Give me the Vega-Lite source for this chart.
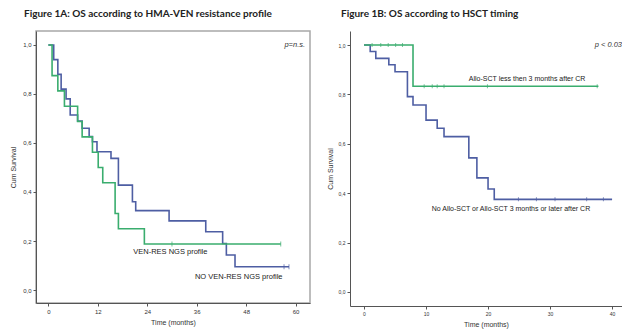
{
  "$schema": "https://vega.github.io/schema/vega-lite/v6.json",
  "padding": {"left": 8, "top": 8, "right": 0, "bottom": 2},
  "spacing": 15,
  "config": {
    "font": "Liberation Sans",
    "view": {"stroke": "#a8a8a8", "strokeWidth": 1.5},
    "axis": {
      "grid": false,
      "domainColor": "#555555",
      "domainWidth": 1,
      "tickColor": "#555555",
      "tickSize": 3,
      "labelFontSize": 6,
      "labelColor": "#333333",
      "labelPadding": 2,
      "titleFontSize": 7,
      "titleFontWeight": "normal",
      "titleColor": "#333333"
    },
    "title": {"font": "Lato", "fontSize": 10, "fontWeight": "bold", "color": "#222222"}
  },
  "datasets": {
    "hmaCurves": [
      {"group": "NO VEN-RES NGS profile", "t": 0, "s": 1.0},
      {"group": "NO VEN-RES NGS profile", "t": 1.3, "s": 0.94},
      {"group": "NO VEN-RES NGS profile", "t": 2.3, "s": 0.88},
      {"group": "NO VEN-RES NGS profile", "t": 3.1, "s": 0.82},
      {"group": "NO VEN-RES NGS profile", "t": 4.3, "s": 0.78},
      {"group": "NO VEN-RES NGS profile", "t": 5.3, "s": 0.714},
      {"group": "NO VEN-RES NGS profile", "t": 7.1, "s": 0.69},
      {"group": "NO VEN-RES NGS profile", "t": 8.2, "s": 0.66},
      {"group": "NO VEN-RES NGS profile", "t": 9.9, "s": 0.626},
      {"group": "NO VEN-RES NGS profile", "t": 10.7, "s": 0.605},
      {"group": "NO VEN-RES NGS profile", "t": 11.8, "s": 0.564},
      {"group": "NO VEN-RES NGS profile", "t": 15.2, "s": 0.537},
      {"group": "NO VEN-RES NGS profile", "t": 17.0, "s": 0.428},
      {"group": "NO VEN-RES NGS profile", "t": 20.4, "s": 0.36},
      {"group": "NO VEN-RES NGS profile", "t": 21.2, "s": 0.324},
      {"group": "NO VEN-RES NGS profile", "t": 29.3, "s": 0.282},
      {"group": "NO VEN-RES NGS profile", "t": 38.2, "s": 0.238},
      {"group": "NO VEN-RES NGS profile", "t": 42.3, "s": 0.19},
      {"group": "NO VEN-RES NGS profile", "t": 43.2, "s": 0.143},
      {"group": "NO VEN-RES NGS profile", "t": 45.3, "s": 0.095},
      {"group": "NO VEN-RES NGS profile", "t": 58.4, "s": 0.095},
      {"group": "VEN-RES NGS profile", "t": 0, "s": 1.0},
      {"group": "VEN-RES NGS profile", "t": 0.9, "s": 0.875},
      {"group": "VEN-RES NGS profile", "t": 2.3, "s": 0.8125},
      {"group": "VEN-RES NGS profile", "t": 3.9, "s": 0.75},
      {"group": "VEN-RES NGS profile", "t": 7.1, "s": 0.6875},
      {"group": "VEN-RES NGS profile", "t": 8.2, "s": 0.625},
      {"group": "VEN-RES NGS profile", "t": 10.7, "s": 0.5625},
      {"group": "VEN-RES NGS profile", "t": 12.1, "s": 0.5},
      {"group": "VEN-RES NGS profile", "t": 13.2, "s": 0.4375},
      {"group": "VEN-RES NGS profile", "t": 16.2, "s": 0.3125},
      {"group": "VEN-RES NGS profile", "t": 17.0, "s": 0.25},
      {"group": "VEN-RES NGS profile", "t": 23.3, "s": 0.1875},
      {"group": "VEN-RES NGS profile", "t": 56.4, "s": 0.1875}
    ],
    "hmaCensored": [
      {"group": "VEN-RES NGS profile", "t": 30.0, "s": 0.1875},
      {"group": "VEN-RES NGS profile", "t": 56.4, "s": 0.1875},
      {"group": "NO VEN-RES NGS profile", "t": 57.2, "s": 0.095},
      {"group": "NO VEN-RES NGS profile", "t": 58.4, "s": 0.095}
    ],
    "hmaNotes": [
      {"label": "VEN-RES NGS profile", "t": 29.6, "s": 0.156},
      {"label": "NO VEN-RES NGS profile", "t": 46.2, "s": 0.054}
    ],
    "hmaP": [{"label": "p=n.s.", "t": 62.3, "s": 1.0}],
    "hsctCurves": [
      {"group": "No Allo-SCT or Allo-SCT 3 months or later after CR", "t": 0, "s": 1.0},
      {"group": "No Allo-SCT or Allo-SCT 3 months or later after CR", "t": 1.0, "s": 0.974},
      {"group": "No Allo-SCT or Allo-SCT 3 months or later after CR", "t": 1.9, "s": 0.946},
      {"group": "No Allo-SCT or Allo-SCT 3 months or later after CR", "t": 4.0, "s": 0.92},
      {"group": "No Allo-SCT or Allo-SCT 3 months or later after CR", "t": 5.0, "s": 0.892},
      {"group": "No Allo-SCT or Allo-SCT 3 months or later after CR", "t": 7.0, "s": 0.791},
      {"group": "No Allo-SCT or Allo-SCT 3 months or later after CR", "t": 7.9, "s": 0.757},
      {"group": "No Allo-SCT or Allo-SCT 3 months or later after CR", "t": 10.0, "s": 0.696},
      {"group": "No Allo-SCT or Allo-SCT 3 months or later after CR", "t": 11.8, "s": 0.663},
      {"group": "No Allo-SCT or Allo-SCT 3 months or later after CR", "t": 12.9, "s": 0.629},
      {"group": "No Allo-SCT or Allo-SCT 3 months or later after CR", "t": 16.9, "s": 0.543},
      {"group": "No Allo-SCT or Allo-SCT 3 months or later after CR", "t": 18.2, "s": 0.462},
      {"group": "No Allo-SCT or Allo-SCT 3 months or later after CR", "t": 20.0, "s": 0.417},
      {"group": "No Allo-SCT or Allo-SCT 3 months or later after CR", "t": 21.0, "s": 0.375},
      {"group": "No Allo-SCT or Allo-SCT 3 months or later after CR", "t": 40.0, "s": 0.375},
      {"group": "Allo-SCT less then 3 months after CR", "t": 0, "s": 1.0},
      {"group": "Allo-SCT less then 3 months after CR", "t": 7.9, "s": 0.833},
      {"group": "Allo-SCT less then 3 months after CR", "t": 37.8, "s": 0.833}
    ],
    "hsctCensored": [
      {"group": "Allo-SCT less then 3 months after CR", "t": 1.3, "s": 1.0},
      {"group": "Allo-SCT less then 3 months after CR", "t": 2.7, "s": 1.0},
      {"group": "Allo-SCT less then 3 months after CR", "t": 3.9, "s": 1.0},
      {"group": "Allo-SCT less then 3 months after CR", "t": 5.1, "s": 1.0},
      {"group": "Allo-SCT less then 3 months after CR", "t": 6.2, "s": 1.0},
      {"group": "Allo-SCT less then 3 months after CR", "t": 9.7, "s": 0.833},
      {"group": "Allo-SCT less then 3 months after CR", "t": 11.0, "s": 0.833},
      {"group": "Allo-SCT less then 3 months after CR", "t": 11.8, "s": 0.833},
      {"group": "Allo-SCT less then 3 months after CR", "t": 12.9, "s": 0.833},
      {"group": "Allo-SCT less then 3 months after CR", "t": 19.9, "s": 0.833},
      {"group": "Allo-SCT less then 3 months after CR", "t": 37.6, "s": 0.833},
      {"group": "No Allo-SCT or Allo-SCT 3 months or later after CR", "t": 24.9, "s": 0.375},
      {"group": "No Allo-SCT or Allo-SCT 3 months or later after CR", "t": 27.8, "s": 0.375},
      {"group": "No Allo-SCT or Allo-SCT 3 months or later after CR", "t": 30.8, "s": 0.375},
      {"group": "No Allo-SCT or Allo-SCT 3 months or later after CR", "t": 35.9, "s": 0.375},
      {"group": "No Allo-SCT or Allo-SCT 3 months or later after CR", "t": 38.6, "s": 0.375}
    ],
    "hsctNotes": [
      {"label": "Allo-SCT less then 3 months after CR", "t": 26.3, "s": 0.862},
      {"label": "No Allo-SCT or Allo-SCT 3 months or later after CR", "t": 23.7, "s": 0.336}
    ],
    "hsctP": [{"label": "p < 0.03", "t": 41.6, "s": 1.0}]
  },
  "hconcat": [
    {
      "width": 274,
      "height": 272,
      "title": {"text": "Figure 1A: OS according to HMA-VEN resistance profile", "anchor": "start", "frame": "group", "dx": -12, "offset": 12},
      "layer": [
        {
          "data": {"name": "hmaCurves"},
          "mark": {"type": "line", "interpolate": "step-after", "strokeWidth": 1.6},
          "encoding": {
            "x": {"field": "t", "type": "quantitative", "scale": {"domain": [-3, 63.5], "nice": false, "zero": false}, "axis": {"values": [0, 12, 24, 36, 48, 60], "title": "Time (months)", "titlePadding": 4}},
            "y": {"field": "s", "type": "quantitative", "scale": {"domain": [-0.053, 1.057], "nice": false, "zero": false}, "axis": {"values": [0, 0.2, 0.4, 0.6, 0.8, 1], "labelExpr": "replace(format(datum.value, '.1f'), '.', ',')", "title": "Cum Survival", "titlePadding": 6}},
            "color": {"field": "group", "type": "nominal", "scale": {"domain": ["NO VEN-RES NGS profile", "VEN-RES NGS profile"], "range": ["#4e5ea3", "#3aad6e"]}, "legend": null}
          }
        },
        {
          "data": {"name": "hmaCensored"},
          "mark": {"type": "tick", "orient": "vertical", "size": 5, "thickness": 1},
          "encoding": {
            "x": {"field": "t", "type": "quantitative"},
            "y": {"field": "s", "type": "quantitative"},
            "color": {"field": "group", "type": "nominal", "legend": null}
          }
        },
        {
          "data": {"name": "hmaNotes"},
          "mark": {"type": "text", "fontSize": 7.5, "color": "#222222", "align": "center", "baseline": "middle"},
          "encoding": {
            "x": {"field": "t", "type": "quantitative"},
            "y": {"field": "s", "type": "quantitative"},
            "text": {"field": "label"}
          }
        },
        {
          "data": {"name": "hmaP"},
          "mark": {"type": "text", "fontSize": 7.5, "fontStyle": "italic", "color": "#333333", "align": "right", "baseline": "middle"},
          "encoding": {
            "x": {"field": "t", "type": "quantitative"},
            "y": {"field": "s", "type": "quantitative"},
            "text": {"field": "label"}
          }
        }
      ]
    },
    {
      "width": 272,
      "height": 275,
      "view": {"stroke": null},
      "title": {"text": "Figure 1B: OS according to HSCT timing", "anchor": "start", "frame": "group", "dx": -9, "offset": 12},
      "layer": [
        {
          "mark": {"type": "rule", "color": "#a8a8a8", "strokeWidth": 1.5},
          "encoding": {"y": {"datum": 1.057, "type": "quantitative"}}
        },
        {
          "data": {"name": "hsctCurves"},
          "mark": {"type": "line", "interpolate": "step-after", "strokeWidth": 1.6},
          "encoding": {
            "x": {"field": "t", "type": "quantitative", "scale": {"domain": [-2.26, 41.6], "nice": false, "zero": false}, "axis": {"values": [0, 10, 20, 30, 40], "title": "Time (months)", "titlePadding": 4, "labelFontSize": 5}},
            "y": {"field": "s", "type": "quantitative", "scale": {"domain": [-0.057, 1.057], "nice": false, "zero": false}, "axis": {"values": [0, 0.2, 0.4, 0.6, 0.8, 1], "labelExpr": "replace(format(datum.value, '.1f'), '.', ',')", "title": "Cum Survival", "titlePadding": 5, "labelFontSize": 5}},
            "color": {"field": "group", "type": "nominal", "scale": {"domain": ["No Allo-SCT or Allo-SCT 3 months or later after CR", "Allo-SCT less then 3 months after CR"], "range": ["#4e5ea3", "#3aad6e"]}, "legend": null}
          }
        },
        {
          "data": {"name": "hsctCensored"},
          "mark": {"type": "tick", "orient": "vertical", "size": 4, "thickness": 1},
          "encoding": {
            "x": {"field": "t", "type": "quantitative"},
            "y": {"field": "s", "type": "quantitative"},
            "color": {"field": "group", "type": "nominal", "legend": null}
          }
        },
        {
          "data": {"name": "hsctNotes"},
          "mark": {"type": "text", "fontSize": 7, "color": "#222222", "align": "center", "baseline": "middle"},
          "encoding": {
            "x": {"field": "t", "type": "quantitative"},
            "y": {"field": "s", "type": "quantitative"},
            "text": {"field": "label"}
          }
        },
        {
          "data": {"name": "hsctP"},
          "mark": {"type": "text", "fontSize": 7.5, "fontStyle": "italic", "color": "#333333", "align": "right", "baseline": "middle"},
          "encoding": {
            "x": {"field": "t", "type": "quantitative"},
            "y": {"field": "s", "type": "quantitative"},
            "text": {"field": "label"}
          }
        }
      ]
    }
  ]
}
